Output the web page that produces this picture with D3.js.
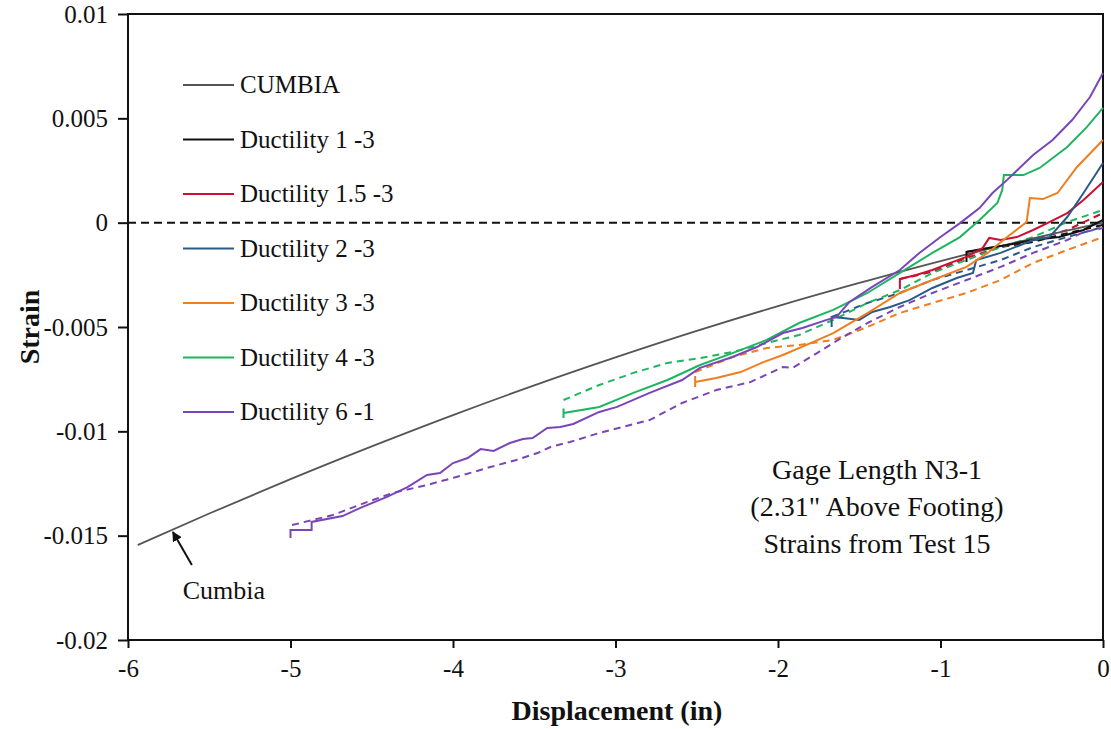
<!DOCTYPE html>
<html><head><meta charset="utf-8">
<script src="https://cdn.jsdelivr.net/npm/d3@7"></script>
<style>body{margin:0;background:#fff}svg{display:block}</style>
</head><body><svg id="c" width="1111" height="729"></svg>
<script>
// ---- data ----
const xTicks = [-6,-5,-4,-3,-2,-1,0];
const xTickLabels = ["-6","-5","-4","-3","-2","-1","0"];
const yTicks = [0.01,0.005,0,-0.005,-0.01,-0.015,-0.02];
const yTickLabels = ["0.01","0.005","0","-0.005","-0.01","-0.015","-0.02"];
const seriesNames = ["CUMBIA","Ductility 1 -3","Ductility 1.5 -3","Ductility 2 -3","Ductility 3 -3","Ductility 4 -3","Ductility 6 -1"];
const seriesColors = ["#555555","#111111","#cc1030","#2a5a8c","#f07d1e","#1fb560","#7a45b8"];

const cumbiaDisp = [-5.94,-5.5,-5,-4.5,-4,-3.5,-3,-2.5,-2,-1.5,-1,-0.5,0];
const cumbiaStrain = [-0.01545,-0.01394,-0.01229,-0.01072,-0.00922,-0.00780,-0.00646,-0.00519,-0.00400,-0.00289,-0.00184,-0.00088,0.0];

const d1Disp = [-0.84,-0.84,-0.71,-0.59,-0.43,-0.27,-0.12,0.00];
const d1Strain = [-0.00188,-0.00140,-0.00121,-0.00107,-0.00083,-0.00069,-0.00035,0.00013];
const d1RetDisp = [-0.84,-0.63,-0.43,-0.22,0.00];
const d1RetStrain = [-0.00140,-0.00117,-0.00093,-0.00050,-0.00011];

const d15Disp = [-1.25,-1.25,-1.15,-1.05,-0.94,-0.84,-0.74,-0.70,-0.63,-0.53,-0.43,-0.33,-0.22,-0.12,0.00];
const d15Strain = [-0.00318,-0.00270,-0.00251,-0.00227,-0.00193,-0.00164,-0.00121,-0.00073,-0.00083,-0.00069,-0.00035,0.00003,0.00046,0.00109,0.00195];
const d15RetDisp = [-1.25,-1.05,-0.84,-0.63,-0.43,-0.22,0.00];
const d15RetStrain = [-0.00270,-0.00236,-0.00169,-0.00117,-0.00083,-0.00035,0.00046];

const d2Disp = [-1.67,-1.67,-1.60,-1.50,-1.42,-1.31,-1.19,-1.05,-0.90,-0.80,-0.78,-0.63,-0.43,-0.33,-0.22,-0.12,0.00];
const d2Strain = [-0.00500,-0.00452,-0.00457,-0.00466,-0.00428,-0.00404,-0.00371,-0.00313,-0.00265,-0.00241,-0.00179,-0.00145,-0.00083,-0.00069,0.00027,0.00142,0.00286];
const d2RetDisp = [-1.67,-1.45,-1.25,-1.05,-0.84,-0.63,-0.43,-0.22,0.00];
const d2RetStrain = [-0.00452,-0.00385,-0.00337,-0.00275,-0.00227,-0.00179,-0.00117,-0.00069,-0.00021];

const d3Disp = [-2.51,-2.51,-2.51,-2.38,-2.23,-2.09,-1.97,-1.80,-1.66,-1.45,-1.25,-1.05,-0.84,-0.71,-0.59,-0.47,-0.45,-0.37,-0.28,-0.16,0.00];
const d3Strain = [-0.00788,-0.00735,-0.00764,-0.00744,-0.00716,-0.00668,-0.00634,-0.00577,-0.00529,-0.00433,-0.00337,-0.00275,-0.00212,-0.00145,-0.00069,0.00003,0.00118,0.00113,0.00142,0.00267,0.00396];
const d3RetDisp = [-2.51,-2.28,-2.07,-1.87,-1.66,-1.45,-1.25,-1.05,-0.84,-0.63,-0.43,-0.22,0.00];
const d3RetStrain = [-0.00716,-0.00644,-0.00601,-0.00586,-0.00562,-0.00500,-0.00433,-0.00385,-0.00337,-0.00275,-0.00193,-0.00131,-0.00069];

const d4Disp = [-3.32,-3.32,-3.32,-3.10,-2.89,-2.68,-2.48,-2.28,-2.07,-1.87,-1.66,-1.45,-1.25,-1.05,-0.88,-0.76,-0.65,-0.62,-0.61,-0.49,-0.39,-0.22,-0.10,0.00];
const d4Strain = [-0.00936,-0.00890,-0.00912,-0.00883,-0.00816,-0.00754,-0.00682,-0.00625,-0.00562,-0.00481,-0.00418,-0.00337,-0.00241,-0.00145,-0.00069,0.00013,0.00094,0.00157,0.00228,0.00228,0.00262,0.00363,0.00458,0.00550];
const d4RetDisp = [-3.32,-3.10,-2.89,-2.68,-2.48,-2.28,-2.07,-1.87,-1.66,-1.45,-1.25,-1.05,-0.84,-0.63,-0.43,-0.22,0.00];
const d4RetStrain = [-0.00850,-0.00778,-0.00720,-0.00672,-0.00649,-0.00620,-0.00577,-0.00538,-0.00466,-0.00385,-0.00323,-0.00241,-0.00179,-0.00117,-0.00069,0.00003,0.00061];

const d6Disp = [-5.00,-5.00,-4.87,-4.87,-4.68,-4.57,-4.41,-4.28,-4.16,-4.08,-4.00,-3.91,-3.83,-3.75,-3.65,-3.57,-3.51,-3.42,-3.34,-3.26,-3.10,-2.99,-2.79,-2.59,-2.48,-2.28,-2.13,-1.97,-1.85,-1.70,-1.64,-1.56,-1.42,-1.25,-1.13,-1.00,-0.88,-0.76,-0.68,-0.59,-0.43,-0.31,-0.19,-0.08,0.00];
const d6Strain = [-0.01511,-0.01473,-0.01473,-0.01434,-0.01406,-0.01367,-0.01315,-0.01267,-0.01209,-0.01200,-0.01152,-0.01128,-0.01085,-0.01094,-0.01056,-0.01037,-0.01032,-0.00984,-0.00979,-0.00965,-0.00907,-0.00883,-0.00816,-0.00754,-0.00696,-0.00644,-0.00596,-0.00529,-0.00505,-0.00466,-0.00452,-0.00380,-0.00308,-0.00227,-0.00145,-0.00069,-0.00002,0.00070,0.00142,0.00205,0.00324,0.00396,0.00492,0.00602,0.00717];
const d6RetDisp = [-4.99,-4.74,-4.53,-4.37,-4.16,-3.98,-3.77,-3.61,-3.48,-3.40,-3.28,-3.10,-2.79,-2.59,-2.38,-2.17,-1.97,-1.91,-1.76,-1.60,-1.45,-1.25,-1.05,-0.84,-0.63,-0.43,-0.22,-0.12,0.00];
const d6RetStrain = [-0.01449,-0.01401,-0.01339,-0.01295,-0.01257,-0.01219,-0.01171,-0.01137,-0.01104,-0.01075,-0.01051,-0.01008,-0.00946,-0.00864,-0.00802,-0.00764,-0.00692,-0.00696,-0.00625,-0.00548,-0.00481,-0.00404,-0.00337,-0.00275,-0.00212,-0.00145,-0.00083,-0.00045,-0.00026];

const noteLines = ["Gage Length N3-1","(2.31\" Above Footing)","Strains from Test 15"];
const calloutText = "Cumbia";
const calloutPoint = [-5.73,-0.01473];
const xTitle = "Displacement (in)";
const yTitle = "Strain";

// ---- drawing ----
const FONT = "Liberation Serif, serif";
const svg = d3.select("#c");
const x = d3.scaleLinear().domain([-6,0]).range([128,1103]);
const y = d3.scaleLinear().domain([-0.02,0.01]).range([640,14]);

const zip = (a,b)=>a.map((v,i)=>[v,b[i]]);
const line = d3.line().x(d=>x(d[0])).y(d=>y(d[1]));
const smooth = d3.line().x(d=>x(d[0])).y(d=>y(d[1])).curve(d3.curveMonotoneX);
const txt = (sel,size,bold)=>sel.style("font-family",FONT).style("font-size",size+"px")
  .style("font-weight",bold?"bold":"normal").attr("fill","#111");

// frame
svg.append("rect").attr("x",x(-6)).attr("y",y(0.01)).attr("width",x(0)-x(-6)).attr("height",y(-0.02)-y(0.01))
  .attr("fill","none").attr("stroke","#111").attr("stroke-width",2);

// zero line
svg.append("line").attr("x1",x(-6)).attr("x2",x(0)).attr("y1",y(0)).attr("y2",y(0))
  .attr("stroke","#111").attr("stroke-width",2).attr("stroke-dasharray","8,5");

// axes
const yAxis = d3.axisLeft(y).tickValues(yTicks).tickSize(10).tickPadding(10)
  .tickFormat((d,i)=>yTickLabels[i]);
const gy = svg.append("g").attr("transform",`translate(${x(-6)},0)`).call(yAxis);
const xAxis = d3.axisBottom(x).tickValues(xTicks).tickSize(8).tickPadding(11)
  .tickFormat((d,i)=>xTickLabels[i]);
const gx = svg.append("g").attr("transform",`translate(0,${y(-0.02)})`).call(xAxis);
[gx,gy].forEach(g=>{
  g.attr("font-family",null).attr("font-size",null);
  g.select(".domain").remove();
  g.selectAll(".tick line").attr("stroke","#111").attr("stroke-width",2);
  txt(g.selectAll(".tick text"),25,false);
});

// axis titles
txt(svg.append("text").attr("x",617).attr("y",720).attr("text-anchor","middle"),28,true).text(xTitle);
txt(svg.append("text").attr("transform","translate(39,327) rotate(-90)").attr("text-anchor","middle"),28,true).text(yTitle);

// series
const solid = [
  [d1Disp,d1Strain,1],[d15Disp,d15Strain,2],[d2Disp,d2Strain,3],
  [d3Disp,d3Strain,4],[d4Disp,d4Strain,5],[d6Disp,d6Strain,6]
];
const dashed = [
  [d1RetDisp,d1RetStrain,1],[d15RetDisp,d15RetStrain,2],[d2RetDisp,d2RetStrain,3],
  [d3RetDisp,d3RetStrain,4],[d4RetDisp,d4RetStrain,5],[d6RetDisp,d6RetStrain,6]
];
const plot = svg.append("g");
dashed.forEach(([a,b,c])=>{
  plot.append("path").attr("d",line(zip(a,b))).attr("fill","none")
    .attr("stroke",seriesColors[c]).attr("stroke-width",2).attr("stroke-dasharray","7,5");
});
plot.append("path").attr("d",smooth(zip(cumbiaDisp,cumbiaStrain))).attr("fill","none")
  .attr("stroke",seriesColors[0]).attr("stroke-width",1.8);
solid.forEach(([a,b,c])=>{
  plot.append("path").attr("d",line(zip(a,b))).attr("fill","none")
    .attr("stroke",seriesColors[c]).attr("stroke-width",2);
});

// legend
const lg = svg.append("g");
seriesNames.forEach((n,i)=>{
  const yy = 85 + i*54.5;
  lg.append("line").attr("x1",183).attr("x2",234).attr("y1",yy).attr("y2",yy)
    .attr("stroke",seriesColors[i]).attr("stroke-width",2);
  txt(lg.append("text").attr("x",240).attr("y",yy+8),25,false).text(n);
});

// note
noteLines.forEach((t,i)=>{
  txt(svg.append("text").attr("x",877).attr("y",479+i*37).attr("text-anchor","middle"),28,false).text(t);
});

// callout
svg.append("defs").append("marker").attr("id","ah").attr("viewBox","0 0 10 10")
  .attr("refX",9).attr("refY",5).attr("markerWidth",5).attr("markerHeight",5).attr("orient","auto")
  .append("path").attr("d","M0,0 L10,5 L0,10 z").attr("fill","#111");
const cx = x(calloutPoint[0]), cy = y(calloutPoint[1]);
svg.append("line").attr("x1",cx+20).attr("y1",cy+35).attr("x2",cx+1).attr("y2",cy+2)
  .attr("stroke","#111").attr("stroke-width",2).attr("marker-end","url(#ah)");
txt(svg.append("text").attr("x",cx+52).attr("y",cy+69).attr("text-anchor","middle"),26,false).text(calloutText);
</script></body></html>
